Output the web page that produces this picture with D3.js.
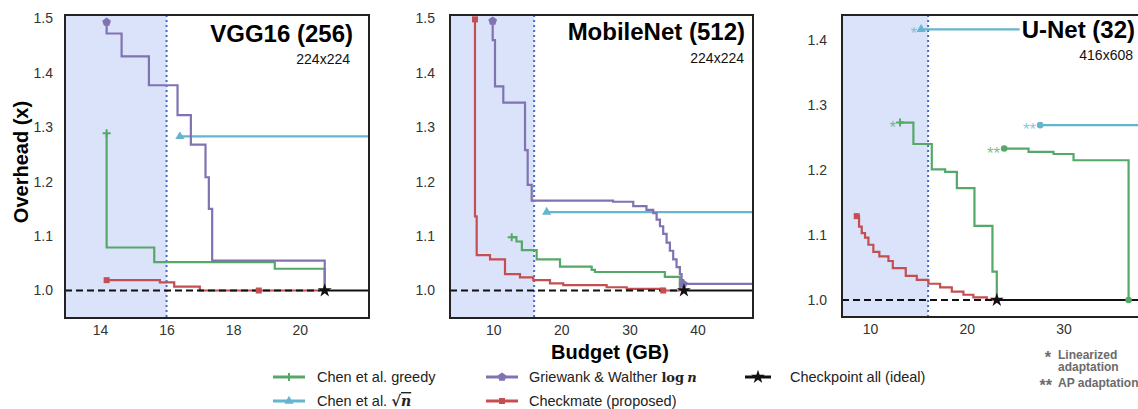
<!DOCTYPE html>
<html>
<head>
<meta charset="utf-8">
<script src="https://cdn.jsdelivr.net/npm/d3@7"></script>
<style>
body { margin: 0; background: #fff; }
text { font-family: "Liberation Sans", Arial, sans-serif; }
</style>
</head>
<body>
<svg id="chart" width="1138" height="409"></svg>
<script>
// memory budget of the target GPU (GB), same for the three panels
var budgetLimit = 16;

// ---- VGG16 (256) ----
var vggXTicks = [14, 16, 18, 20];
var vggYTicks = [1.0, 1.1, 1.2, 1.3, 1.4, 1.5];
var vggGreedy = [[14.2, 1.289], [14.2, 1.079], [15.63, 1.052], [19.25, 1.04], [20.75, 1.0]];
var vggSqrt = [[16.4, 1.283], [23, 1.283]];
var vggGriewank = [[14.2, 1.493], [14.2, 1.472], [14.65, 1.43], [15.47, 1.377], [16.33, 1.322],
  [16.73, 1.268], [17.17, 1.208], [17.27, 1.15], [17.37, 1.055], [20.75, 1.0]];
var vggCheckmate = [[14.2, 1.019], [15.8, 1.015], [16.23, 1.007], [17.0, 1.0], [18.77, 1.0], [20.6, 1.0]];
var vggIdeal = 20.75;

// ---- MobileNet (512) ----
var mobXTicks = [10, 20, 30, 40];
var mobYTicks = [1.0, 1.1, 1.2, 1.3, 1.4, 1.5];
var mobGreedy = [[12.7, 1.098], [13.4, 1.09], [14.2, 1.074], [16.37, 1.057], [19.8, 1.044],
  [24.45, 1.038], [24.93, 1.034], [35.2, 1.025], [37.4, 1.0]];
var mobSqrt = [[17.84, 1.144], [50, 1.144]];
var mobGriewank = [[9.91, 1.495], [9.91, 1.46], [10.25, 1.375], [11.47, 1.345], [14.66, 1.258],
  [15.05, 1.194], [15.64, 1.165], [27.6, 1.163], [30.56, 1.155], [32.5, 1.148], [33.5, 1.142],
  [33.99, 1.130], [34.48, 1.118], [34.96, 1.104], [35.46, 1.088], [35.94, 1.073], [36.43, 1.057],
  [36.92, 1.043], [37.41, 1.030], [37.66, 1.019], [37.9, 1.012], [50, 1.012]];
var mobCheckmate = [[7.31, 1.498], [7.31, 1.136], [7.56, 1.065], [9.52, 1.057], [11.72, 1.030],
  [13.92, 1.024], [15.87, 1.019], [18.33, 1.013], [20.28, 1.010], [26.65, 1.006], [29.6, 1.003],
  [34.96, 1.0], [37.5, 1.0]];
var mobIdeal = 38.0;

// ---- U-Net (32) ----
var unetXTicks = [10, 20, 30];
var unetYTicks = [1.0, 1.1, 1.2, 1.3, 1.4];
var unetGreedyLin = [[13.1, 1.273], [14.48, 1.24], [16.38, 1.201], [17.76, 1.197], [18.97, 1.172],
  [20.79, 1.114], [22.65, 1.0435], [23.1, 1.0]];
var unetGreedyAP = [[23.86, 1.233], [26.38, 1.228], [28.96, 1.2246], [31.03, 1.215], [36.72, 1.0]];
var unetSqrtLin = [[15.27, 1.4164], [40, 1.4164]];
var unetSqrtAP = [[27.58, 1.269], [40, 1.269]];
var unetCheckmate = [[8.62, 1.129], [8.86, 1.113], [9.14, 1.103], [9.48, 1.096], [9.83, 1.085],
  [10.34, 1.074], [10.96, 1.067], [11.9, 1.06], [12.35, 1.049], [13.69, 1.037], [14.83, 1.031],
  [16.03, 1.025], [17.24, 1.0195], [18.45, 1.013], [19.65, 1.008], [20.68, 1.004], [22.07, 1.0],
  [23.1, 1.0]];
var unetIdeal = 23.1;

var titles = ["VGG16 (256)", "MobileNet (512)", "U-Net (32)"];
var subtitles = ["224x224", "224x224", "416x608"];
var legendLabels = ["Chen et al. greedy", "Griewank & Walther", "Checkpoint all (ideal)", "Chen et al.", "Checkmate (proposed)"];

// custom marker shapes
var plusSym = { draw: function(ctx, size) {
  var r = Math.sqrt(size) / 2;
  ctx.moveTo(-r, 0); ctx.lineTo(r, 0); ctx.moveTo(0, -r); ctx.lineTo(0, r);
}};
var pentSym = { draw: function(ctx, size) {
  var r = Math.sqrt(size / 2.378);
  for (var i = 0; i < 5; i++) {
    var a = -Math.PI / 2 + i * 2 * Math.PI / 5;
    if (i == 0) ctx.moveTo(r * Math.cos(a), r * Math.sin(a));
    else ctx.lineTo(r * Math.cos(a), r * Math.sin(a));
  }
  ctx.closePath();
}};

var styles = {
  greedy:    { color: "#55a868", sym: plusSym, size: 64, stroked: true },
  greedyAP:  { color: "#55a868", sym: d3.symbolCircle, size: 34 },
  sqrt:      { color: "#64b5cd", sym: d3.symbolTriangle, size: 36 },
  sqrtAP:    { color: "#64b5cd", sym: d3.symbolCircle, size: 34 },
  griewank:  { color: "#8172b2", sym: pentSym, size: 50 },
  checkmate: { color: "#c44e52", sym: d3.symbolSquare, size: 36 },
  ideal:     { color: "#111", sym: d3.symbolStar, size: 60 }
};

var panels = [
  { x0: 65, x1: 369, y0: 15, y1: 318, xDom: [12.95, 22.08], yDom: [0.9495, 1.506],
    xTicks: vggXTicks, yTicks: vggYTicks, ideal: vggIdeal,
    titleX: 353, titleY: 41.7, subX: 350, subY: 64, yPad: 12,
    series: [
      { key: "sqrt", data: vggSqrt, marks: [0] },
      { key: "greedy", data: vggGreedy, marks: [0] },
      { key: "griewank", data: vggGriewank, marks: [0] },
      { key: "checkmate", data: vggCheckmate, marks: [0, 4] }
    ] },
  { x0: 450, x1: 753, y0: 15, y1: 318, xDom: [3.64, 48.15], yDom: [0.9495, 1.506],
    xTicks: mobXTicks, yTicks: mobYTicks, ideal: mobIdeal,
    titleX: 745, titleY: 40, subX: 744, subY: 62.7, yPad: 15,
    series: [
      { key: "sqrt", data: mobSqrt, marks: [0] },
      { key: "greedy", data: mobGreedy, marks: [0] },
      { key: "griewank", data: mobGriewank, marks: [0, 20] },
      { key: "checkmate", data: mobCheckmate, marks: [0, 11] }
    ] },
  { x0: 842, x1: 1140, y0: 15, y1: 317, xDom: [7.10, 37.9], yDom: [0.9738, 1.4385],
    xTicks: unetXTicks, yTicks: unetYTicks, ideal: unetIdeal,
    titleX: 1135, titleY: 38.3, subX: 1133, subY: 60, yPad: 15,
    series: [
      { key: "sqrt", data: unetSqrtLin, marks: [0], tag: "*" },
      { key: "sqrtAP", data: unetSqrtAP, marks: [0], tag: "**" },
      { key: "greedy", data: unetGreedyLin, marks: [0], tag: "*" },
      { key: "greedyAP", data: unetGreedyAP, marks: [0, 4], tag: "**" },
      { key: "checkmate", data: unetCheckmate, marks: [0] }
    ] }
];

var svg = d3.select("#chart");

function marker(sel, st) {
  sel.attr("d", d3.symbol().type(st.sym).size(st.size))
    .attr("fill", st.stroked ? "none" : st.color)
    .attr("stroke", st.stroked ? st.color : "none")
    .attr("stroke-width", 2);
}

panels.forEach(function(p, i) {
  var x = d3.scaleLinear().domain(p.xDom).range([p.x0, p.x1]);
  var y = d3.scaleLinear().domain(p.yDom).range([p.y1, p.y0]);
  var line = d3.line().x(function(d) { return x(d[0]); }).y(function(d) { return y(d[1]); })
    .curve(d3.curveStepAfter);

  svg.append("clipPath").attr("id", "clip" + i)
    .append("rect").attr("x", p.x0).attr("y", p.y0)
    .attr("width", p.x1 - p.x0).attr("height", p.y1 - p.y0);
  var plot = svg.append("g").attr("clip-path", "url(#clip" + i + ")");

  // region that fits in the budget
  plot.append("rect")
    .attr("x", p.x0).attr("y", p.y0)
    .attr("width", x(budgetLimit) - p.x0).attr("height", p.y1 - p.y0)
    .attr("fill", "#dbe3fa");
  plot.append("line")
    .attr("x1", x(budgetLimit)).attr("x2", x(budgetLimit))
    .attr("y1", p.y0).attr("y2", p.y1)
    .attr("stroke", "#4a6cc0").attr("stroke-width", 2).attr("stroke-dasharray", "2,3");

  p.series.forEach(function(s) {
    var st = styles[s.key];
    plot.append("path").datum(s.data)
      .attr("d", line)
      .attr("fill", "none")
      .attr("stroke", st.color)
      .attr("stroke-width", 2.2);
  });

  // checkpoint all baseline
  plot.append("line")
    .attr("x1", p.x0).attr("x2", x(p.ideal))
    .attr("y1", y(1)).attr("y2", y(1))
    .attr("stroke", "#111").attr("stroke-width", 2).attr("stroke-dasharray", "7,4");
  plot.append("line")
    .attr("x1", x(p.ideal)).attr("x2", p.x1)
    .attr("y1", y(1)).attr("y2", y(1))
    .attr("stroke", "#111").attr("stroke-width", 2);

  p.series.forEach(function(s) {
    var st = styles[s.key];
    s.marks.forEach(function(k) {
      var d = s.data[k];
      plot.append("path")
        .attr("transform", "translate(" + x(d[0]) + "," + y(d[1]) + ")")
        .call(marker, st);
    });
    if (s.tag) {
      var d0 = s.data[0];
      plot.append("text")
        .attr("x", x(d0[0]) - 4).attr("y", y(d0[1]) + 10)
        .attr("text-anchor", "end")
        .attr("font-size", 17)
        .attr("fill", st.color).attr("fill-opacity", 0.75)
        .text(s.tag);
    }
  });

  plot.append("path")
    .attr("transform", "translate(" + x(p.ideal) + "," + y(1) + ")")
    .call(marker, styles.ideal);

  // axes
  var ya = svg.append("g").attr("transform", "translate(" + p.x0 + ",0)")
    .call(d3.axisLeft(y).tickValues(p.yTicks).tickSize(0).tickPadding(p.yPad).tickFormat(d3.format(".1f")));
  var xa = svg.append("g").attr("transform", "translate(0," + p.y1 + ")")
    .call(d3.axisBottom(x).tickValues(p.xTicks).tickSize(0).tickPadding(7));
  [ya, xa].forEach(function(a) {
    a.select(".domain").remove();
    a.selectAll("text").attr("font-size", 14).attr("fill", "#333")
      .attr("font-family", "Liberation Sans, Arial, sans-serif");
  });

  // title with white box behind it
  var tg = svg.append("g");
  var tt = tg.append("text")
    .attr("x", p.titleX).attr("y", p.titleY)
    .attr("text-anchor", "end")
    .attr("font-size", 24).attr("font-weight", "bold").attr("fill", "#000")
    .text(titles[i]);
  var bb = tt.node().getBBox();
  tg.insert("rect", "text")
    .attr("x", bb.x - 2).attr("y", bb.y + 2)
    .attr("width", bb.width + 10).attr("height", bb.height - 2)
    .attr("fill", "#fff");
  svg.append("text")
    .attr("x", p.subX).attr("y", p.subY)
    .attr("text-anchor", "end")
    .attr("font-size", 14).attr("fill", "#111")
    .text(subtitles[i]);

  svg.append("rect")
    .attr("x", p.x0).attr("y", p.y0)
    .attr("width", p.x1 - p.x0).attr("height", p.y1 - p.y0)
    .attr("fill", "none").attr("stroke", "#222").attr("stroke-width", 2);
});

// axis titles
svg.append("text")
  .attr("transform", "translate(28,162) rotate(-90)")
  .attr("text-anchor", "middle")
  .attr("font-size", 20).attr("font-weight", "bold")
  .text("Overhead (x)");
svg.append("text")
  .attr("x", 610).attr("y", 359)
  .attr("text-anchor", "middle")
  .attr("font-size", 20).attr("font-weight", "bold")
  .text("Budget (GB)");

// legend
var legendItems = [
  { key: "greedy", label: legendLabels[0], hx: 273, hw: 32, tx: 317, cy: 377 },
  { key: "griewank", label: legendLabels[1], hx: 486, hw: 32, tx: 529, cy: 377, math: "log" },
  { key: "ideal", label: legendLabels[2], hx: 745, hw: 26, tx: 790, cy: 377 },
  { key: "sqrt", label: legendLabels[3], hx: 273, hw: 32, tx: 317, cy: 401, math: "sqrt" },
  { key: "checkmate", label: legendLabels[4], hx: 486, hw: 32, tx: 529, cy: 401 }
];
var lg = svg.append("g");
legendItems.forEach(function(it) {
  var st = styles[it.key];
  lg.append("line")
    .attr("x1", it.hx).attr("x2", it.hx + it.hw)
    .attr("y1", it.cy).attr("y2", it.cy)
    .attr("stroke", st.color).attr("stroke-width", 3);
  lg.append("path")
    .attr("transform", "translate(" + (it.hx + it.hw / 2) + "," + it.cy + ")")
    .call(marker, st);
  var t = lg.append("text")
    .attr("x", it.tx).attr("y", it.cy + 5)
    .attr("font-size", 14.5).attr("fill", "#222")
    .text(it.label + " ");
  if (it.math == "log") {
    t.append("tspan").attr("font-family", "DejaVu Serif, Liberation Serif, serif")
      .attr("font-weight", "bold").attr("font-size", 13).text("log");
    t.append("tspan").attr("font-family", "DejaVu Serif, Liberation Serif, serif")
      .attr("font-style", "italic").attr("font-weight", "bold").attr("font-size", 13).attr("dx", 3).text("n");
  }
  if (it.math == "sqrt") {
    t.append("tspan").attr("font-family", "DejaVu Serif, Liberation Serif, serif")
      .attr("font-weight", "bold").attr("font-size", 15).text("√");
    t.append("tspan").attr("font-family", "DejaVu Serif, Liberation Serif, serif")
      .attr("font-style", "italic").attr("font-weight", "bold").attr("font-size", 14)
      .style("text-decoration", "overline").text("n");
  }
});

// footnote for the U-Net adaptations
var fn = svg.append("g").attr("font-weight", "bold").attr("font-size", 12).attr("fill", "#6b6b6b");
fn.append("text").attr("x", 1051).attr("y", 363).attr("text-anchor", "end").attr("font-size", 16).text("*");
fn.append("text").attr("x", 1058).attr("y", 359).text("Linearized");
fn.append("text").attr("x", 1058).attr("y", 371).text("adaptation");
fn.append("text").attr("x", 1052).attr("y", 391).attr("text-anchor", "end").attr("font-size", 16).text("**");
fn.append("text").attr("x", 1058).attr("y", 387).text("AP adaptation");
</script>
</body>
</html>
